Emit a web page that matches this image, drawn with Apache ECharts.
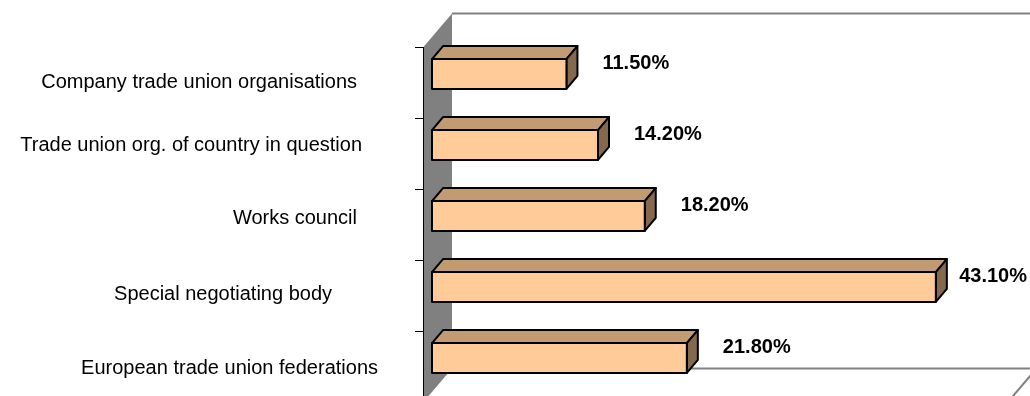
<!DOCTYPE html>
<html>
<head>
<meta charset="utf-8">
<script src="https://cdn.jsdelivr.net/npm/echarts@6/dist/echarts.min.js"></script>
<style>
  html, body { margin: 0; padding: 0; background: #ffffff; }
  #chart { width: 1030px; height: 396px; }
</style>
</head>
<body>
<div id="chart"></div>
<script>
// Who takes part in setting up the body – share of answers
const categories = [
  'Company trade union organisations',
  'Trade union org. of country in question',
  'Works council',
  'Special negotiating body',
  'European trade union federations'
];
const shares = [11.5, 14.2, 18.2, 43.1, 21.8];
const axisMin = 0;
const axisMax = 50;

// ---- styling ----
const FONT = '"Liberation Sans", Arial, Helvetica, sans-serif';
const FRAME_DEPTH = [29, -34];   // oblique offset from front plane to back wall
const BAR_DEPTH = [11, -13];     // oblique depth of each bar
const WALL_GREY = '#808080';
const BAR_FRONT = '#FFCC99';
const BAR_TOP = '#C29B73';
const BAR_SIDE = '#85694D';
// per-label nudges for the category names (right padding, vertical shift)
const labelPadRight = [21, 16, 21, 46, 0];
const labelShiftY = [-1, -9, -7, -2, 1];

const rich = {};
labelPadRight.forEach(function (pr, i) {
  const s = labelShiftY[i];
  rich['c' + i] = {
    fontSize: 20,
    fontFamily: FONT,
    color: '#000',
    padding: [s > 0 ? 2 * s : 0, pr, s < 0 ? -2 * s : 0, 0]
  };
});

const measureCtx = document.createElement('canvas').getContext('2d');
function textWidth(str, font) {
  measureCtx.font = font;
  return measureCtx.measureText(str).width;
}

// Walls and floor edges of the 3-D frame, built from the frame grid's box
function renderFrame(params, api) {
  const cs = params.coordSys;
  const x0 = cs.x, y0 = cs.y, x1 = cs.x + cs.width, y1 = cs.y + cs.height;
  const dx = FRAME_DEPTH[0], dy = FRAME_DEPTH[1];
  const edge = { stroke: WALL_GREY, lineWidth: 2 };
  return {
    type: 'group',
    children: [
      { type: 'polygon', shape: { points: [[x0, y0], [x0 + dx, y0 + dy], [x0 + dx, y1 + dy], [x0, y1]] },
        style: { fill: WALL_GREY } },
      { type: 'line', shape: { x1: x0 + dx, y1: y0 + dy, x2: x1 + dx, y2: y0 + dy }, style: edge },
      { type: 'line', shape: { x1: x0 + dx, y1: y1 + dy, x2: x1 + dx, y2: y1 + dy }, style: edge },
      { type: 'line', shape: { x1: x1 + dx, y1: y0 + dy, x2: x1 + dx, y2: y1 + dy }, style: edge },
      { type: 'line', shape: { x1: x1 + dx, y1: y1 + dy, x2: x1, y2: y1 }, style: edge }
    ]
  };
}

// One oblique 3-D bar with its value label
function renderBar(params, api) {
  const idx = params.dataIndex;
  const val = api.value(0);
  const base = api.coord([axisMin, idx]);
  const end = api.coord([val, idx]);
  const band = api.size([0, 1])[1];
  const h = band * 0.42;
  const xl = base[0], xr = end[0];
  const yt = base[1] - h / 2, yb = base[1] + h / 2;
  const dx = BAR_DEPTH[0], dy = BAR_DEPTH[1];
  const outline = { stroke: '#000', lineWidth: 2, lineJoin: 'round' };

  const label = val.toFixed(2) + '%';
  const labelFont = 'bold 20px ' + FONT;
  const w = textWidth(label, labelFont);
  const lx = Math.min(xr + 36, api.getWidth() - 3 - w);

  return {
    type: 'group',
    children: [
      { type: 'polygon', shape: { points: [[xl, yt], [xl + dx, yt + dy], [xr + dx, yt + dy], [xr, yt]] },
        style: Object.assign({ fill: BAR_TOP }, outline) },
      { type: 'polygon', shape: { points: [[xr, yt], [xr + dx, yt + dy], [xr + dx, yb + dy], [xr, yb]] },
        style: Object.assign({ fill: BAR_SIDE }, outline) },
      { type: 'rect', shape: { x: xl, y: yt, width: xr - xl, height: yb - yt },
        style: Object.assign({ fill: BAR_FRONT }, outline) },
      { type: 'text', x: lx, y: base[1] - 11,
        style: { text: label, font: labelFont, fill: '#000', align: 'left', verticalAlign: 'middle' } }
    ]
  };
}

const chart = echarts.init(document.getElementById('chart'), null, { renderer: 'canvas' });

chart.setOption({
  animation: false,
  backgroundColor: '#ffffff',
  grid: [
    // bar front plane
    { left: 432, top: 38.5, width: 584.5, height: 355, outerBoundsMode: 'none', containLabel: false },
    // front plane of the frame (carries the category axis)
    { left: 423, top: 47.5, width: 584.5, height: 355, outerBoundsMode: 'none', containLabel: false }
  ],
  xAxis: [
    { type: 'value', gridIndex: 0, min: axisMin, max: axisMax, show: false },
    { type: 'value', gridIndex: 1, min: axisMin, max: axisMax, show: false }
  ],
  yAxis: [
    { type: 'category', gridIndex: 0, data: categories, inverse: true, show: false },
    {
      type: 'category', gridIndex: 1, data: categories, inverse: true,
      z: 2,
      axisLine: { show: true, lineStyle: { color: '#000', width: 1 } },
      axisTick: { show: true, length: 8, lineStyle: { color: '#000', width: 1 } },
      splitLine: { show: false },
      axisLabel: {
        margin: 45,
        fontSize: 20,
        fontFamily: FONT,
        color: '#000',
        formatter: function (v, i) { return '{c' + i + '|' + v + '}'; },
        rich: rich
      }
    }
  ],
  series: [
    {
      type: 'custom',
      xAxisIndex: 1, yAxisIndex: 1,
      z: 1,
      silent: true,
      renderItem: renderFrame,
      data: [[axisMin, 0]]
    },
    {
      type: 'custom',
      xAxisIndex: 0, yAxisIndex: 0,
      z: 3,
      renderItem: renderBar,
      encode: { x: 0, y: 1 },
      data: shares.map(function (v, i) { return [v, categories[i]]; })
    }
  ]
});
</script>
</body>
</html>
